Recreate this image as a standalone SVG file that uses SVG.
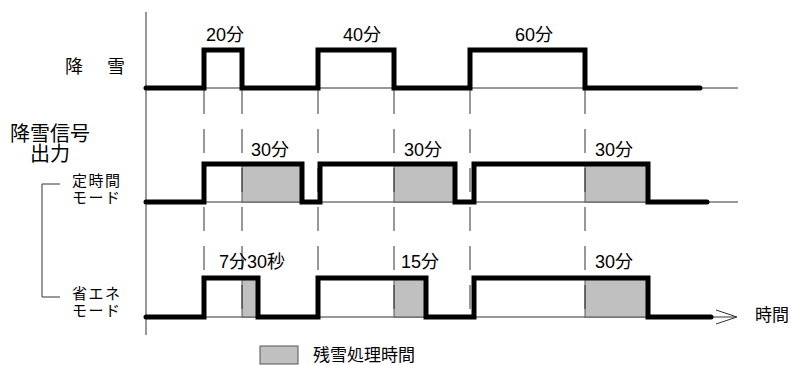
<svg xmlns="http://www.w3.org/2000/svg" width="791" height="365" viewBox="0 0 791 365">
<style>
text{font-family:"Liberation Sans","Noto Sans CJK JP",sans-serif;fill:#000}
.t18{font-size:18px}
.lab{font-size:17px}
.mode{font-size:15px;letter-spacing:1.5px}
.big{font-size:20px}
.thin{stroke:#333;stroke-width:1;fill:none}
.dash{stroke:#333;stroke-width:1;fill:none;stroke-dasharray:24 15}
.sig{stroke:#000;stroke-width:5;fill:none;stroke-linejoin:miter;stroke-linecap:round}
.gray{fill:#c0c0c0;stroke:#555;stroke-width:1}
</style>
<rect width="791" height="365" fill="#fff"/>
<g id="axes">
<line class="thin" x1="146" y1="12" x2="146" y2="335"/>
<line class="thin" x1="146" y1="88" x2="738" y2="88"/>
<line class="thin" x1="146" y1="202" x2="738" y2="202"/>
<line class="thin" x1="146" y1="317" x2="736" y2="317"/>
<path class="thin" d="M716,310 L737,317 L716,324"/>
</g>
<g id="shading">
<rect class="gray" x="242" y="164" width="60" height="38"/>
<rect class="gray" x="394" y="164" width="61" height="38"/>
<rect class="gray" x="585" y="164" width="63" height="38"/>
<rect class="gray" x="242" y="278" width="16" height="39"/>
<rect class="gray" x="394" y="278" width="32" height="39"/>
<rect class="gray" x="585" y="278" width="63" height="39"/>
</g>
<g id="guides">
<line class="dash" x1="204" y1="90" x2="204" y2="317"/>
<line class="dash" x1="242" y1="90" x2="242" y2="317"/>
<line class="dash" x1="318" y1="90" x2="318" y2="317"/>
<line class="dash" x1="394" y1="90" x2="394" y2="317"/>
<line class="dash" x1="470" y1="90" x2="470" y2="317"/>
<line class="dash" x1="585" y1="90" x2="585" y2="317"/>
</g>
<g id="snow">
<path class="sig" d="M146,88 H204 V50 H242 V88 H318 V50 H394 V88 H470 V50 H585 V88 H700"/>
<text class="t18" x="225" y="41" text-anchor="middle">20分</text>
<text class="t18" x="362" y="41" text-anchor="middle">40分</text>
<text class="t18" x="534" y="41" text-anchor="middle">60分</text>
</g>
<g id="fixed">
<path class="sig" d="M146,202 H204 V164 H302 V202 H320 V164 H455 V202 H474 V164 H648 V202 H707"/>
<text class="t18" x="270" y="156" text-anchor="middle">30分</text>
<text class="t18" x="423" y="156" text-anchor="middle">30分</text>
<text class="t18" x="614" y="156" text-anchor="middle">30分</text>
</g>
<g id="eco">
<path class="sig" d="M146,317 H204 V278 H258 V317 H318 V278 H426 V317 H474 V278 H648 V317 H711"/>
<text class="t18" x="252" y="268" text-anchor="middle">7分30秒</text>
<text class="t18" x="420" y="268" text-anchor="middle">15分</text>
<text class="t18" x="614" y="268" text-anchor="middle">30分</text>
<text class="lab" x="772" y="321" text-anchor="middle">時間</text>
</g>
<g id="labels">
<text class="t18" x="74" y="73" text-anchor="middle">降</text>
<text class="t18" x="116" y="73" text-anchor="middle">雪</text>
<text class="big" x="50" y="141" text-anchor="middle">降雪信号</text>
<text class="big" x="50" y="161" text-anchor="middle">出力</text>
<text class="mode" x="72" y="186">定時間</text>
<text class="mode" x="72" y="203">モード</text>
<text class="mode" x="72" y="299">省エネ</text>
<text class="mode" x="72" y="316">モード</text>
<path class="thin" d="M60,184 H42 V297 H60"/>
</g>
<g id="legend">
<rect class="gray" x="260" y="346" width="38" height="18"/>
<text class="lab" x="313" y="361">残雪処理時間</text>
</g>
</svg>
